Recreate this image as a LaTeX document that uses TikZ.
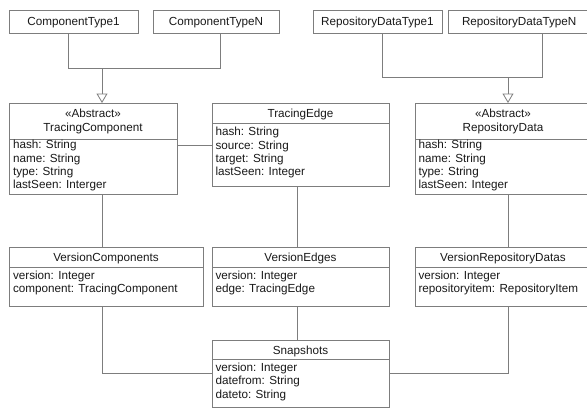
\documentclass[tikz,border=0pt]{standalone}
\usepackage{fontspec}
\setmainfont{Liberation Sans}
\usetikzlibrary{arrows.meta}
\definecolor{lineg}{RGB}{125,125,125}
\definecolor{txtc}{RGB}{25,25,25}
\tikzset{
  box/.style={draw=lineg, line width=0.8pt, fill=white, inner sep=0pt, outer sep=0pt, anchor=north west},
  conn/.style={draw=lineg, line width=0.8pt},
  gen/.style={conn, -{Triangle[open, width=11pt, length=9.5pt, line width=0.8pt]}},
  txt/.style={inner sep=0pt, outer sep=0pt, text=txtc, font=\fontsize{11.7}{13.3}\selectfont},
  ttl/.style={txt, anchor=base},
  att/.style={txt, anchor=base west}
}
\begin{document}
\begin{tikzpicture}[x=1pt,y=-1pt]
\useasboundingbox[fill=white] (0,0) rectangle (587,408);
\clip (0,0) rectangle (587,408);

% --- boxes ---
\node[box, minimum width=129pt, minimum height=23pt] (ct1) at (9,10) {};
\node[box, minimum width=126pt, minimum height=23pt] (ctn) at (153,10) {};
\node[box, minimum width=129pt, minimum height=23pt] (rdt1) at (313,10) {};
\node[box, minimum width=160pt, minimum height=23pt] (rdtn) at (448,10) {};

\node[box, minimum width=168pt, minimum height=91pt] (tc) at (9,103) {};
\node[box, minimum width=177pt, minimum height=83pt] (te) at (212,103) {};
\node[box, minimum width=176pt, minimum height=91pt] (rd) at (415,103) {};

\node[box, minimum width=194pt, minimum height=59pt] (vc) at (9,247) {};
\node[box, minimum width=177pt, minimum height=59pt] (ve) at (212,247) {};
\node[box, minimum width=176pt, minimum height=59pt] (vrd) at (415,247) {};

\node[box, minimum width=177pt, minimum height=67pt] (sn) at (212,340) {};

% --- dividers ---
\coordinate (d1) at (0,139);
\coordinate (d2) at (0,123);
\coordinate (d3) at (0,267);
\coordinate (d4) at (0,359);
\draw[conn] (tc.west |- d1) -- (tc.east |- d1);
\draw[conn] (te.west |- d2) -- (te.east |- d2);
\draw[conn] (rd.west |- d1) -- (rd.east |- d1);
\draw[conn] (vc.west |- d3) -- (vc.east |- d3);
\draw[conn] (ve.west |- d3) -- (ve.east |- d3);
\draw[conn] (vrd.west |- d3) -- (vrd.east |- d3);
\draw[conn] (sn.west |- d4) -- (sn.east |- d4);

% --- texts ---
\node[ttl] (ct1t) at (73.5,25.8) {ComponentType1};
\node[ttl] (ctnt) at (216,25.8) {ComponentTypeN};
\node[ttl] (rdt1t) at (377.5,25.8) {RepositoryDataType1};
\node[att] (rdtnt) at (462,25.8) {RepositoryDataTypeN};

\node[ttl] (tcs) at (93,117.8) {«Abstract»};
\node[ttl] (tcn) at (93,131.1) {TracingComponent};
\node[att] (tca1) at (13,148.8) {hash: String};
\node[att] (tca2) at (13,162.1) {name: String};
\node[att] (tca3) at (13,175.4) {type: String};
\node[att] (tca4) at (13,188.7) {lastSeen: Interger};

\node[ttl] (ten) at (300.5,117.5) {TracingEdge};
\node[att] (tea1) at (215.5,135.8) {hash: String};
\node[att] (tea2) at (215.5,149.1) {source: String};
\node[att] (tea3) at (215.5,162.4) {target: String};
\node[att] (tea4) at (215.5,175.7) {lastSeen: Integer};

\node[ttl] (rds) at (503,117.8) {«Abstract»};
\node[ttl] (rdn) at (503,131.1) {RepositoryData};
\node[att] (rda1) at (418.5,148.8) {hash: String};
\node[att] (rda2) at (418.5,162.1) {name: String};
\node[att] (rda3) at (418.5,175.4) {type: String};
\node[att] (rda4) at (418.5,188.7) {lastSeen: Integer};

\node[ttl] (vcn) at (106,261.5) {VersionComponents};
\node[att] (vca1) at (13,279.3) {version: Integer};
\node[att] (vca2) at (13,292.6) {component: TracingComponent};

\node[ttl] (ven) at (300.5,261.5) {VersionEdges};
\node[att] (vea1) at (215.5,279.3) {version: Integer};
\node[att] (vea2) at (215.5,292.6) {edge: TracingEdge};

\node[ttl] (vrdn) at (503,261.5) {VersionRepositoryDatas};
\node[att] (vrda1) at (418.5,279.3) {version: Integer};
\node[att] (vrda2) at (418.5,292.6) {repositoryitem: RepositoryItem};

\node[ttl] (snn) at (300.5,354) {Snapshots};
\node[att] (sna1) at (215.5,371.5) {version: Integer};
\node[att] (sna2) at (215.5,384.8) {datefrom: String};
\node[att] (sna3) at (215.5,398.1) {dateto: String};

% --- connectors ---
\coordinate (busL) at (68,68);
\coordinate (busR) at (220,68);
\coordinate (busM) at (102,68);
\draw[conn] (ct1.south -| busL) -- (busL) -- (busR) -- (ctn.south -| busR);
\draw[gen] (busM) -- (tc.north -| busM);

\coordinate (rbusL) at (382,77);
\coordinate (rbusR) at (542,77);
\coordinate (rbusM) at (508,77);
\draw[conn] (rdt1.south -| rbusL) -- (rbusL) -- (rbusR) -- (rdtn.south -| rbusR);
\draw[gen] (rbusM) -- (rd.north -| rbusM);

\coordinate (h1) at (0,145);
\draw[conn] (tc.east |- h1) -- (te.west |- h1);

\coordinate (colA) at (102,0);
\coordinate (colB) at (297,0);
\coordinate (colC) at (508,0);
\coordinate (lowA) at (102,373);
\coordinate (lowC) at (508,373);
\draw[conn] (tc.south -| colA) -- (vc.north -| colA);
\draw[conn] (te.south -| colB) -- (ve.north -| colB);
\draw[conn] (rd.south -| colC) -- (vrd.north -| colC);
\draw[conn] (ve.south -| colB) -- (sn.north -| colB);
\draw[conn] (vc.south -| colA) -- (lowA) -- (sn.west |- lowA);
\draw[conn] (vrd.south -| colC) -- (lowC) -- (sn.east |- lowC);
\end{tikzpicture}
\end{document}
